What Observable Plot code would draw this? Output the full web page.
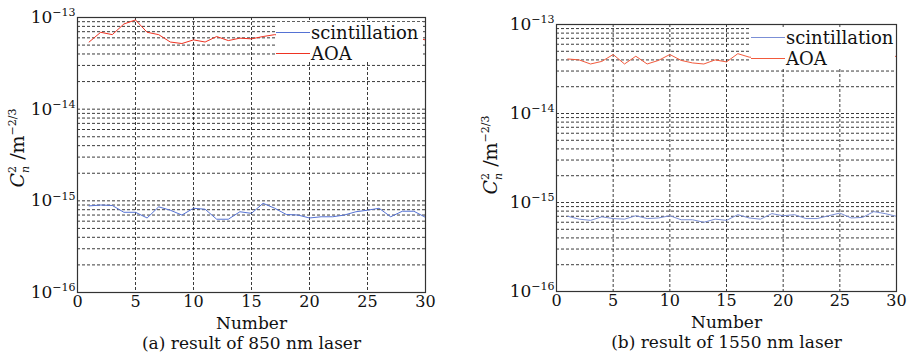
<!DOCTYPE html>
<html>
<head>
<meta charset="utf-8">
<script src="https://cdn.jsdelivr.net/npm/d3@7"></script>
<script src="https://cdn.jsdelivr.net/npm/@observablehq/plot@0.6"></script>
<style>
  html, body { margin: 0; padding: 0; background: #fff; }
  #wrap { position: relative; width: 909px; height: 362px; overflow: hidden; font-family: "DejaVu Serif", serif; }
  .panel { position: absolute; top: 0; }
  .legend { position: absolute; background: #fff; font-family: "DejaVu Serif", serif; font-size: 18px; color: #111; }
  .row { position: absolute; left: 0; height: 20px; display: flex; align-items: center; white-space: nowrap; }
  .swatch { display: inline-block; width: 34px; height: 0; border-top: 1.3px solid; margin-right: 1px; }
</style>
</head>
<body>
<div id="wrap"></div>
<script>
// ---- data ----
const numbers = [1,2,3,4,5,6,7,8,9,10,11,12,13,14,15,16,17,18,19,20,21,22,23,24,25,26,27,28,29,30];

const scint850 = [8.8e-16,9.0e-16,8.9e-16,7.5e-16,7.5e-16,6.5e-16,8.6e-16,7.9e-16,7.0e-16,8.3e-16,
                  8.1e-16,6.3e-16,6.3e-16,7.6e-16,7.3e-16,9.4e-16,8.3e-16,7.1e-16,7.0e-16,6.5e-16,
                  6.7e-16,6.7e-16,7.0e-16,7.6e-16,7.9e-16,8.3e-16,6.7e-16,7.7e-16,7.7e-16,6.6e-16];
const aoa850   = [5.4e-14,6.9e-14,6.5e-14,8.5e-14,9.4e-14,6.9e-14,6.5e-14,5.4e-14,5.2e-14,5.7e-14,
                  5.4e-14,6.2e-14,5.6e-14,5.95e-14,5.85e-14,6.2e-14,6.5e-14,6.3e-14,6.0e-14,6.2e-14,
                  5.9e-14,6.1e-14,6.4e-14,6.2e-14,6.0e-14,6.3e-14,6.1e-14,5.8e-14,6.0e-14,5.7e-14];

const scint1550 = [7.0e-16,6.5e-16,6.3e-16,6.9e-16,6.6e-16,6.5e-16,7.1e-16,6.6e-16,6.7e-16,7.1e-16,
                   6.4e-16,6.4e-16,6.0e-16,6.5e-16,6.3e-16,7.3e-16,6.7e-16,6.5e-16,7.5e-16,7.1e-16,
                   7.3e-16,6.6e-16,6.6e-16,7.1e-16,7.6e-16,6.7e-16,6.8e-16,7.9e-16,7.5e-16,7.0e-16];
const aoa1550   = [4.1e-14,4.0e-14,3.6e-14,3.85e-14,4.6e-14,3.6e-14,4.4e-14,3.6e-14,3.95e-14,4.6e-14,
                   3.95e-14,3.7e-14,3.6e-14,4.0e-14,3.8e-14,4.7e-14,4.3e-14,4.2e-14,4.6e-14,5.4e-14,
                   4.5e-14,4.1e-14,4.4e-14,4.0e-14,4.3e-14,4.5e-14,4.2e-14,4.6e-14,5.4e-14,4.3e-14];

const seriesNames = ["scintillation", "AOA"];
const xTicks = [0, 5, 10, 15, 20, 25, 30];
const xGrid = [5, 10, 15, 20, 25];
const yTicks = [1e-16, 1e-15, 1e-14, 1e-13];
const yTickExponents = ["\u221216", "\u221215", "\u221214", "\u221213"];
const mantissas = [1, 2, 3, 4, 5, 6, 7, 8, 9];
const yGrid = [1e-16, 1e-15, 1e-14].flatMap(d => mantissas.map(m => m * d)).concat([1e-13]);
const xLabel = "Number";
const captions = ["(a) result of 850 nm laser", "(b) result of 1550 nm laser"];

const panels = [
  { left: 0, width: 450, mt: 17, mb: 70, ml: 77, mr: 25, scint: scint850, aoa: aoa850, cap: captions[0],
    blue: "#5572d4", red: "#ee3322",
    legend: { left: 276, top: 22, width: 147, height: 40, r1: 0, r2: 21 },
    ylab: { x: 24, y: 148 } },
  { left: 455, width: 454, mt: 24, mb: 71, ml: 101, mr: 13, scint: scint1550, aoa: aoa1550, cap: captions[1],
    blue: "#7b8fd6", red: "#f25a3c",
    legend: { left: 296, top: 27, width: 144, height: 40, r1: 0, r2: 21.6 },
    ylab: { x: 42, y: 155 } }
];

const wrap = document.getElementById("wrap");

panels.forEach(p => {
  const scintRows = numbers.map((n, i) => ({ n, v: p.scint[i] }));
  const aoaRows = numbers.map((n, i) => ({ n, v: p.aoa[i] }));
  const dash = { stroke: "#1a1a1a", strokeOpacity: 0.85, strokeDasharray: "3,2", strokeWidth: 1 };
  const chart = Plot.plot({
    width: p.width,
    height: 362,
    marginTop: p.mt,
    marginBottom: p.mb,
    marginLeft: p.ml,
    marginRight: p.mr,
    style: { fontFamily: "DejaVu Serif, serif", fontSize: "16px", color: "#111", background: "transparent" },
    x: { domain: [0, 30] },
    y: { type: "log", domain: [1e-16, 1e-13] },
    marks: [
      Plot.gridY(yGrid, dash),
      Plot.gridX(xGrid, dash),
      Plot.line(aoaRows, { x: "n", y: "v", stroke: p.red, strokeWidth: 1 }),
      Plot.line(scintRows, { x: "n", y: "v", stroke: p.blue, strokeWidth: 1 }),
      Plot.frame({ stroke: "#333", strokeWidth: 1.2 }),
      Plot.axisX({ ticks: xTicks, tickSize: 0, tickPadding: 3, label: null, fontSize: 16 }),
      Plot.axisY({ ticks: yTicks, tickSize: 0, tickPadding: 2, label: null, fontSize: 17,
                   tickFormat: d => "10" + yTickExponents[yTicks.indexOf(d)] }),
      Plot.text([xLabel], { text: d => d, frameAnchor: "bottom", dy: 36, fontSize: 17 }),
      Plot.text([p.cap], { text: d => d, frameAnchor: "bottom", dy: 56, fontSize: 17 })
    ]
  });
  const div = document.createElement("div");
  div.className = "panel";
  div.style.left = p.left + "px";
  div.appendChild(chart);
  wrap.appendChild(div);

  const svg = d3.select(chart);

  // y tick labels: "10" with a raised exponent
  svg.selectAll('g[aria-label="y-axis tick label"] text').each(function () {
    const el = d3.select(this);
    const s = el.text();
    const base = s.slice(0, 2), exp = s.slice(2);
    el.text(null);
    el.append("tspan").text(base);
    el.append("tspan").attr("font-size", 11).attr("dy", "-0.6em").text(exp);
  });

  // y-axis label
  const t = svg.append("text")
    .attr("transform", `translate(${p.ylab.x},${p.ylab.y}) rotate(-90)`)
    .attr("text-anchor", "middle")
    .attr("font-family", "DejaVu Serif, serif")
    .attr("font-size", 19)
    .attr("fill", "#111");
  t.append("tspan").attr("font-style", "italic").text("C");
  t.append("tspan").attr("font-size", 11).attr("dy", -8).text("2");
  t.append("tspan").attr("font-size", 11).attr("font-style", "italic").attr("dx", -7).attr("dy", 13).text("n");
  t.append("tspan").attr("dy", -5).text(" /m");
  t.append("tspan").attr("font-size", 11).attr("dy", -8).text("\u22122/3");

  // legend
  const lg = document.createElement("div");
  lg.className = "legend";
  lg.style.left = (p.left + p.legend.left) + "px";
  lg.style.top = p.legend.top + "px";
  lg.style.width = p.legend.width + "px";
  lg.style.height = p.legend.height + "px";
  [[seriesNames[0], p.blue, p.legend.r1], [seriesNames[1], p.red, p.legend.r2]].forEach(([name, col, off]) => {
    const row = document.createElement("div");
    row.className = "row";
    row.style.top = off + "px";
    const sw = document.createElement("span");
    sw.className = "swatch";
    sw.style.borderTopColor = col;
    const tx = document.createElement("span");
    tx.textContent = name;
    row.appendChild(sw);
    row.appendChild(tx);
    lg.appendChild(row);
  });
  wrap.appendChild(lg);
});
</script>
</body>
</html>
